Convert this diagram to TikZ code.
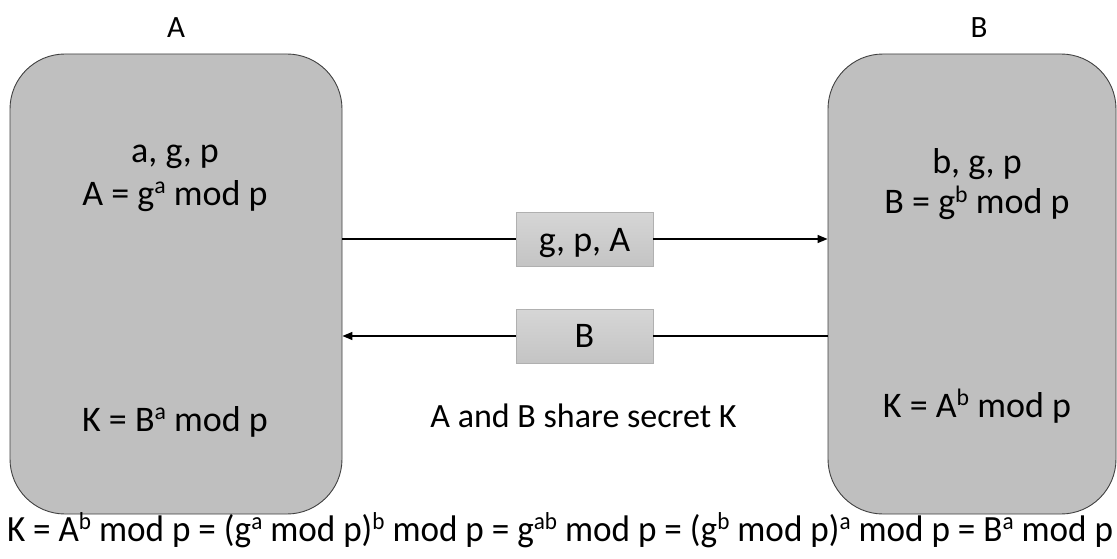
\documentclass[tikz,border=0pt]{standalone}
\usepackage{fontspec}
\setmainfont{Carlito}
\usetikzlibrary{arrows.meta}
\definecolor{partyfill}{HTML}{BFBFBF}
\definecolor{partyline}{HTML}{404040}
\definecolor{msgtop}{HTML}{D6D6D6}
\definecolor{msgbot}{HTML}{C4C4C4}
\definecolor{msgline}{HTML}{B0B0B0}
% small raised exponent
\newcommand{\pw}[1]{\raisebox{0.32em}{\scalebox{0.66}{#1}}}
\tikzset{
  party/.style={draw=partyline, line width=0.9pt, fill=partyfill,
    rounded corners=55pt, minimum width=#1, minimum height=460pt,
    inner sep=0pt},
  msgbox/.style={draw=msgline, line width=0.8pt, top color=msgtop,
    bottom color=msgbot, minimum width=137pt, minimum height=54pt,
    inner sep=0pt},
  msgtext/.style={anchor=base, inner sep=0pt, font=\fontsize{36}{40}\selectfont},
  boxtext/.style={anchor=base, inner sep=0pt, font=\fontsize{36}{40}\selectfont},
  label/.style={anchor=base, inner sep=0pt, font=\fontsize{31}{36}\selectfont},
  note/.style={anchor=base, inner sep=0pt, font=\fontsize{34}{38}\selectfont},
  msg/.style={line width=1.4pt, -{Triangle[length=10pt,width=8pt]}},
  plain/.style={line width=1.4pt}
}
\begin{document}
\begin{tikzpicture}[x=1pt,y=-1pt]
\useasboundingbox (0,0) rectangle (1117,559);
% the two parties
\node[party=332pt] (pa) at (176,284) {};
\node[party=288pt] (pb) at (972,284) {};
\node[label] (la) at (176,38) {A};
\node[label] (lb) at (979,38) {B};
% values held by each party
\node[boxtext] (ta1) at (175,163) {a, g, p};
\node[boxtext] (ta2) at (175,205) {A = g\pw{a} mod p};
\node[boxtext] (tb1) at (977,174) {b, g, p};
\node[boxtext] (tb2) at (977,214) {B = g\pw{b} mod p};
\node[boxtext] (ka) at (175,431) {K = B\pw{a} mod p};
\node[boxtext] (kb) at (977,417) {K = A\pw{b} mod p};
% exchanged messages
\node[msgbox] (m1) at (584.5,239) {};
\node[msgtext] (m1t) at (584.5,251) {g, p, A};
\node[msgbox] (m2) at (584.5,336) {};
\node[msgtext] (m2t) at (584.5,347) {B};
\draw[plain] (pa.east |- m1) -- (m1.west);
\draw[msg] (m1.east) -- (pb.west |- m1);
\draw[plain] (pb.west |- m2) -- (m2.east);
\draw[msg] (m2.west) -- (pa.east |- m2);
\node[note] (sh) at (583.5,427) {A and B share secret K};
% derivation of the shared key, set condensed to fit the width
\node[anchor=base, inner sep=0pt] (eq) at (560,541) {\resizebox{1106pt}{\height}{\fontsize{37}{40}\selectfont K = A\pw{b} mod p = (g\pw{a} mod p)\pw{b} mod p = g\pw{ab} mod p = (g\pw{b} mod p)\pw{a} mod p = B\pw{a} mod p}};
\end{tikzpicture}
\end{document}
